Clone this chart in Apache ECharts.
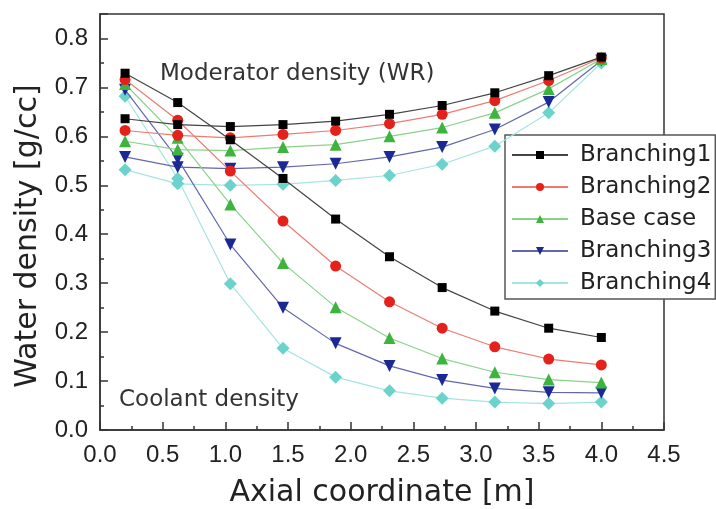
<!DOCTYPE html>
<html>
<head>
<meta charset="utf-8">
<script src="https://cdn.jsdelivr.net/npm/echarts@6/dist/echarts.min.js"></script>
<style>
  html, body { margin: 0; padding: 0; background: #fff; }
  #main { width: 716px; height: 509px; }
</style>
</head>
<body>
<div id="main"></div>
<script>
// axial positions of the nodes [m]
var xPos = [0.2, 0.62, 1.04, 1.46, 1.88, 2.31, 2.73, 3.15, 3.58, 4.0];

// coolant density (falling curves)
var b1Cool = [0.729, 0.669, 0.593, 0.514, 0.431, 0.354, 0.291, 0.243, 0.208, 0.189];
var b2Cool = [0.716, 0.633, 0.529, 0.427, 0.335, 0.262, 0.208, 0.170, 0.145, 0.133];
var baseCool = [0.707, 0.597, 0.461, 0.341, 0.251, 0.188, 0.146, 0.118, 0.103, 0.097];
var b3Cool = [0.695, 0.554, 0.379, 0.250, 0.177, 0.131, 0.102, 0.085, 0.077, 0.076];
var b4Cool = [0.682, 0.514, 0.299, 0.167, 0.108, 0.080, 0.065, 0.057, 0.054, 0.057];

// moderator density (WR)
var b1Mod = [0.636, 0.624, 0.620, 0.624, 0.631, 0.645, 0.663, 0.689, 0.724, 0.762];
var b2Mod = [0.612, 0.602, 0.597, 0.604, 0.612, 0.626, 0.645, 0.673, 0.714, 0.760];
var baseMod = [0.590, 0.573, 0.571, 0.578, 0.583, 0.600, 0.618, 0.648, 0.697, 0.758];
var b3Mod = [0.558, 0.537, 0.534, 0.537, 0.544, 0.558, 0.578, 0.614, 0.670, 0.755];
var b4Mod = [0.532, 0.503, 0.500, 0.502, 0.510, 0.520, 0.543, 0.580, 0.648, 0.750];

var names = ["Branching1", "Branching2", "Base case", "Branching3", "Branching4"];

function pairs(ys) {
  return xPos.map(function (x, i) { return [x, ys[i]]; });
}

var styles = [
  { name: names[0], cool: b1Cool, mod: b1Mod, mark: "#000000", line: "#444444", symbol: "rect", size: 9, rot: 0 },
  { name: names[1], cool: b2Cool, mod: b2Mod, mark: "#e4211b", line: "#ee7b72", symbol: "circle", size: 11, rot: 0 },
  { name: names[2], cool: baseCool, mod: baseMod, mark: "#3db43d", line: "#8ad28a", symbol: "triangle", size: 12, rot: 0 },
  { name: names[3], cool: b3Cool, mod: b3Mod, mark: "#1b2994", line: "#6368ad", symbol: "triangle", size: 12, rot: 180 },
  { name: names[4], cool: b4Cool, mod: b4Mod, mark: "#6ad3cc", line: "#a6e4e1", symbol: "diamond", size: 13, rot: 0 }
];

var series = [];
styles.forEach(function (s, k) {
  [s.cool, s.mod].forEach(function (ys) {
    series.push({
      name: s.name,
      type: "line",
      data: pairs(ys),
      symbol: s.symbol,
      symbolSize: s.size,
      symbolRotate: s.rot,
      showAllSymbol: true,
      z: 10 - k,
      itemStyle: { color: s.mark },
      lineStyle: { color: s.line, width: 1.2 },
      emphasis: { disabled: true },
      animation: false
    });
  });
});

var myChart = echarts.init(document.getElementById("main"));
var option = {
  backgroundColor: "#fff",
  animation: false,
  grid: {
    left: 100,
    right: 52,
    top: 14,
    bottom: 79,
    outerBoundsMode: "none",
    show: true,
    borderColor: "#333",
    borderWidth: 1.5
  },
  xAxis: {
    type: "value",
    min: 0,
    max: 4.5,
    interval: 0.5,
    name: "Axial coordinate [m]",
    nameLocation: "middle",
    nameGap: 48,
    nameTextStyle: { fontFamily: "DejaVu Sans", fontSize: 30, color: "#222" },
    axisLine: { lineStyle: { color: "#333", width: 1.5 } },
    axisTick: { inside: true, length: 8, lineStyle: { color: "#333", width: 1.5 } },
    minorTick: { show: true, splitNumber: 2, length: 4, lineStyle: { color: "#333", width: 1.5 } },
    splitLine: { show: false },
    axisLabel: {
      margin: 13,
      fontFamily: "Liberation Sans",
      fontSize: 24,
      color: "#222",
      formatter: function (v) { return v.toFixed(1); }
    }
  },
  yAxis: {
    type: "value",
    min: 0,
    max: 0.85,
    interval: 0.1,
    name: "Water density [g/cc]",
    nameLocation: "middle",
    nameGap: 57,
    nameTextStyle: { fontFamily: "DejaVu Sans", fontSize: 30, color: "#222", padding: [0, 28, 0, 0] },
    axisLine: { lineStyle: { color: "#333", width: 1.5 } },
    axisTick: { inside: true, length: 8, lineStyle: { color: "#333", width: 1.5 } },
    minorTick: { show: true, splitNumber: 2, length: 4, lineStyle: { color: "#333", width: 1.5 } },
    splitLine: { show: false },
    axisLabel: {
      margin: 12,
      showMaxLabel: false,
      fontFamily: "Liberation Sans",
      fontSize: 24,
      color: "#222",
      formatter: function (v) { return Math.abs(v - Math.round(v * 10) / 10) < 1e-6 ? v.toFixed(1) : ""; }
    }
  },
  legend: {
    data: names,
    orient: "vertical",
    left: 505,
    top: 135,
    padding: [7, 4, 3, 6],
    itemGap: 6,
    itemWidth: 56,
    itemHeight: 10,
    backgroundColor: "#fff",
    borderColor: "#555",
    borderWidth: 1.5,
    borderRadius: 0,
    textStyle: {
      fontFamily: "DejaVu Sans",
      fontSize: 23,
      lineHeight: 26,
      color: "#222",
      padding: [0, 0, 0, 7]
    }
  },
  graphic: [
    {
      type: "text",
      left: 160,
      top: 63,
      style: { text: "Moderator density (WR)", font: "23px 'DejaVu Sans'", fill: "#333" }
    },
    {
      type: "text",
      left: 119,
      top: 389,
      style: { text: "Coolant density", font: "23px 'DejaVu Sans'", fill: "#333" }
    }
  ],
  series: series
};
myChart.setOption(option);
</script>
</body>
</html>
